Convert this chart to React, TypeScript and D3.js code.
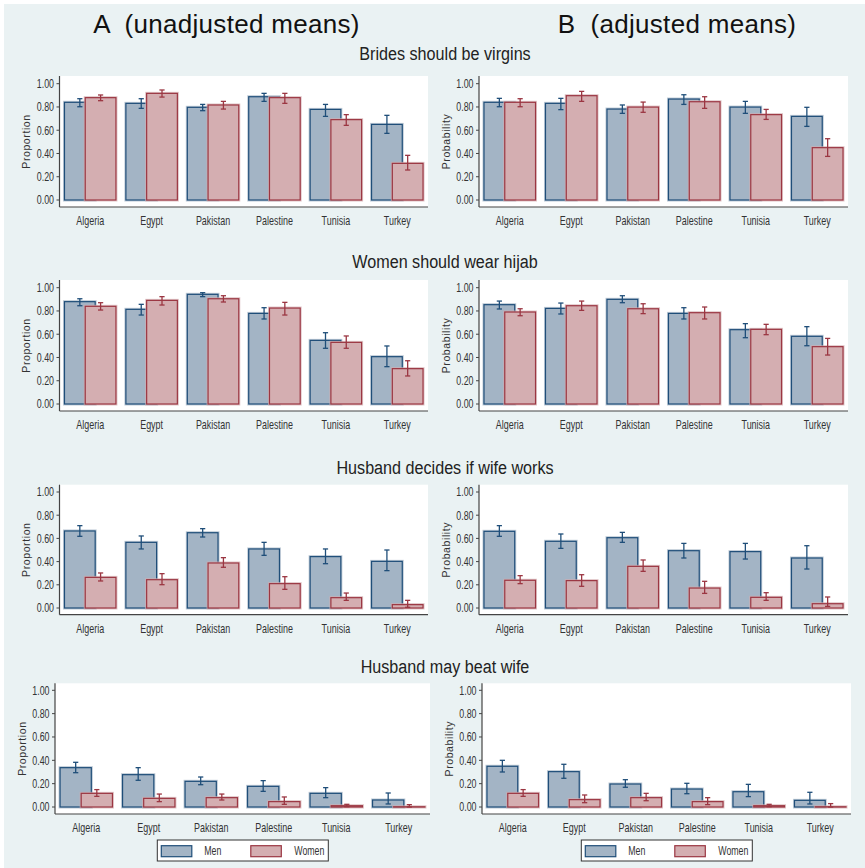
import React from "react";
import * as d3 from "d3";

// ---------- DATA ----------
const countries = ["Algeria", "Egypt", "Pakistan", "Palestine", "Tunisia", "Turkey"];
const yTicks = [0, 0.2, 0.4, 0.6, 0.8, 1.0];
const seriesNames = ["Men", "Women"];
const columnTitles = ["A  (unadjusted means)", "B  (adjusted means)"];
const rowTitles = ["Brides should be virgins", "Women should wear hijab", "Husband decides if wife works", "Husband may beat wife"];
const axisTitles = ["Proportion", "Probability"];

// each entry: [mean, lower CI, upper CI]
const virginsUnadjMen = [[0.840, 0.802, 0.871], [0.831, 0.788, 0.871], [0.797, 0.768, 0.822], [0.888, 0.848, 0.917], [0.779, 0.719, 0.822], [0.650, 0.573, 0.728]];
const virginsUnadjWomen = [[0.880, 0.854, 0.903], [0.917, 0.885, 0.946], [0.817, 0.782, 0.848], [0.880, 0.831, 0.917], [0.691, 0.642, 0.734], [0.315, 0.258, 0.384]];
const virginsAdjMen = [[0.840, 0.802, 0.874], [0.831, 0.777, 0.874], [0.782, 0.745, 0.817], [0.868, 0.822, 0.905], [0.799, 0.745, 0.848], [0.719, 0.633, 0.797]];
const virginsAdjWomen = [[0.840, 0.802, 0.871], [0.897, 0.848, 0.934], [0.799, 0.754, 0.842], [0.845, 0.788, 0.888], [0.734, 0.693, 0.779], [0.450, 0.375, 0.527]];

const hijabUnadjMen = [[0.880, 0.845, 0.905], [0.814, 0.765, 0.857], [0.943, 0.923, 0.957], [0.779, 0.731, 0.828], [0.547, 0.479, 0.613], [0.407, 0.321, 0.499]];
const hijabUnadjWomen = [[0.840, 0.808, 0.871], [0.891, 0.851, 0.923], [0.905, 0.877, 0.931], [0.825, 0.765, 0.874], [0.530, 0.479, 0.585], [0.304, 0.241, 0.372]];
const hijabAdjMen = [[0.854, 0.817, 0.885], [0.822, 0.774, 0.868], [0.900, 0.871, 0.931], [0.779, 0.731, 0.828], [0.639, 0.570, 0.691], [0.582, 0.501, 0.665]];
const hijabAdjWomen = [[0.791, 0.759, 0.819], [0.845, 0.805, 0.885], [0.819, 0.777, 0.862], [0.785, 0.731, 0.834], [0.642, 0.596, 0.685], [0.493, 0.421, 0.564]];

const worksUnadjMen = [[0.664, 0.618, 0.710], [0.566, 0.509, 0.621], [0.649, 0.612, 0.684], [0.509, 0.454, 0.566], [0.443, 0.382, 0.509], [0.402, 0.322, 0.500]];
const worksUnadjWomen = [[0.264, 0.233, 0.302], [0.244, 0.201, 0.296], [0.388, 0.351, 0.434], [0.210, 0.161, 0.270], [0.089, 0.066, 0.129], [0.029, 0.006, 0.066]];
const worksAdjMen = [[0.661, 0.618, 0.710], [0.575, 0.514, 0.638], [0.606, 0.566, 0.652], [0.494, 0.431, 0.557], [0.486, 0.422, 0.557], [0.431, 0.336, 0.537]];
const worksAdjWomen = [[0.239, 0.210, 0.279], [0.236, 0.187, 0.287], [0.359, 0.316, 0.414], [0.172, 0.126, 0.230], [0.092, 0.066, 0.132], [0.037, 0.014, 0.095]];

const beatUnadjMen = [[0.337, 0.294, 0.383], [0.277, 0.229, 0.337], [0.220, 0.191, 0.257], [0.177, 0.134, 0.226], [0.117, 0.080, 0.166], [0.060, 0.026, 0.120]];
const beatUnadjWomen = [[0.117, 0.091, 0.149], [0.074, 0.046, 0.111], [0.080, 0.060, 0.111], [0.046, 0.023, 0.086], [0.011, 0.003, 0.023], [0.002, 0.0, 0.020]];
const beatAdjMen = [[0.349, 0.300, 0.400], [0.303, 0.246, 0.366], [0.197, 0.169, 0.234], [0.154, 0.114, 0.203], [0.131, 0.089, 0.194], [0.057, 0.026, 0.126]];
const beatAdjWomen = [[0.117, 0.091, 0.149], [0.063, 0.037, 0.103], [0.080, 0.054, 0.117], [0.046, 0.020, 0.080], [0.011, 0.003, 0.023], [0.002, 0.0, 0.029]];

const panelData = [
  [[virginsUnadjMen, virginsUnadjWomen], [virginsAdjMen, virginsAdjWomen]],
  [[hijabUnadjMen, hijabUnadjWomen], [hijabAdjMen, hijabAdjWomen]],
  [[worksUnadjMen, worksUnadjWomen], [worksAdjMen, worksAdjWomen]],
  [[beatUnadjMen, beatUnadjWomen], [beatAdjMen, beatAdjWomen]],
];

// ---------- LAYOUT ----------
const W = 865, H = 868;
const BG = "#eaf2f3";
const MEN_FILL = "#a3b4c5", MEN_STROKE = "#1f4e79";
const WOMEN_FILL = "#d4aeb1", WOMEN_STROKE = "#9b3642";
const SANS = "'Liberation Sans', Arial, sans-serif";

const rowLayout = [
  { top: 76, y1: 83.7, y0: 200, axis: 207, sub: 60 },
  { top: 280, y1: 287.7, y0: 404, axis: 411, sub: 268 },
  { top: 484.7, y1: 492, y0: 608, axis: 614.7, sub: 473.5 },
  { top: 683.3, y1: 690.3, y0: 807, axis: 814, sub: 672.5 },
];
const colLayout = [
  [{ l: 59.5, r: 428 }, { l: 479, r: 848 }],
  [{ l: 59.5, r: 428 }, { l: 479, r: 848 }],
  [{ l: 59.5, r: 428 }, { l: 479, r: 848 }],
  [{ l: 55, r: 430 }, { l: 482, r: 851 }],
];

function NText({ x, y, s, size, anchor = "start", fill = "#333", dy, children }: any) {
  return (
    <text
      transform={`translate(${x},${y}) scale(${s},1)`}
      x={0}
      y={0}
      dy={dy}
      textAnchor={anchor}
      fontFamily={SANS}
      fontSize={size}
      fill={fill}
    >
      {children}
    </text>
  );
}

function Panel({ row, col }: { row: number; col: number }) {
  const rl = rowLayout[row];
  const cl = colLayout[row][col];
  const [men, women] = panelData[row][col];
  const x = d3.scaleBand().domain(countries).range([cl.l, cl.r]).padding(0);
  const y = d3.scaleLinear().domain([0, 1]).range([rl.y0, rl.y1]);
  const step = x.step();
  const bw = step * 0.5;
  const half = step * 0.419;
  const capW = 2.6;

  const bar = (d: number[], i: number, g: number) => {
    const c = x(countries[i])! + step / 2;
    const bx = g === 0 ? c - half : c + half - bw;
    const fill = g === 0 ? MEN_FILL : WOMEN_FILL;
    const stroke = g === 0 ? MEN_STROKE : WOMEN_STROKE;
    const yt = y(d[0]);
    const cx = bx + bw / 2;
    const h = Math.max(0.3, rl.y0 - yt);
    return (
      <g key={`${g}-${i}`}>
        <rect x={bx} y={yt} width={bw} height={h} fill={fill} stroke={fill} strokeWidth={3} opacity={0.7} />
        <rect x={bx} y={yt} width={bw} height={h} fill={fill} stroke={stroke} strokeWidth={1.2} />
        <line x1={cx} x2={cx} y1={y(d[1])} y2={y(d[2])} stroke={stroke} strokeWidth={1.3} />
        <line x1={cx - capW} x2={cx + capW} y1={y(d[1])} y2={y(d[1])} stroke={stroke} strokeWidth={1.3} />
        <line x1={cx - capW} x2={cx + capW} y1={y(d[2])} y2={y(d[2])} stroke={stroke} strokeWidth={1.3} />
      </g>
    );
  };

  return (
    <g>
      <rect x={cl.l} y={rl.top} width={cl.r - cl.l} height={rl.axis - rl.top} fill="#fff" />
      {men.map((d, i) => bar(d, i, 0))}
      {women.map((d, i) => bar(d, i, 1))}
      <line x1={cl.l} x2={cl.l} y1={rl.top} y2={rl.axis} stroke="#444" strokeWidth={1.2} />
      <line x1={cl.l} x2={cl.r} y1={rl.axis} y2={rl.axis} stroke="#444" strokeWidth={1.2} />
      {yTicks.map((t) => (
        <g key={t}>
          <line x1={cl.l - 3} x2={cl.l} y1={y(t)} y2={y(t)} stroke="#444" strokeWidth={1} />
          <NText x={cl.l - 5.5} y={y(t)} dy="0.36em" s={0.74} size={12} anchor="end">
            {d3.format(".2f")(t)}
          </NText>
        </g>
      ))}
      {countries.map((c) => (
        <NText key={c} x={x(c)! + step / 2} y={rl.axis + 18} s={0.7} size={12.8} anchor="middle">
          {c}
        </NText>
      ))}
      <text
        transform={`translate(${cl.l - 29.5},${(rl.top + rl.axis) / 2}) rotate(-90)`}
        textAnchor="middle"
        fontFamily={SANS}
        fontSize={10.5}
        letterSpacing={0.6}
        fill="#333"
      >
        {axisTitles[col]}
      </text>
    </g>
  );
}

function Legend({ x0 }: { x0: number }) {
  return (
    <g>
      <rect x={x0} y={840} width={171} height={21} fill="#fff" stroke="#333" strokeWidth={1} />
      <rect x={x0 + 4} y={845.7} width={30.5} height={11} fill={MEN_FILL} stroke={MEN_STROKE} strokeWidth={1.2} />
      <NText x={x0 + 47} y={855} s={0.72} size={12.2}>{seriesNames[0]}</NText>
      <rect x={x0 + 93.5} y={845.7} width={30.5} height={11} fill={WOMEN_FILL} stroke={WOMEN_STROKE} strokeWidth={1.2} />
      <NText x={x0 + 137} y={855} s={0.72} size={12.2}>{seriesNames[1]}</NText>
    </g>
  );
}

export default function App() {
  return (
    <svg width={W} height={H} style={{ position: "absolute", left: 0, top: 0, display: "block" }}>
      <rect x={0} y={0} width={W} height={H} fill="#fff" />
      <rect x={4} y={4} width={W - 4} height={H - 4} fill={BG} />
      <text x={226.5} y={33} textAnchor="middle" fontFamily={SANS} fontSize={26} letterSpacing={0.3} fill="#111" style={{ whiteSpace: "pre" }}>{columnTitles[0]}</text>
      <text x={677} y={33} textAnchor="middle" fontFamily={SANS} fontSize={26} letterSpacing={0.3} fill="#111" style={{ whiteSpace: "pre" }}>{columnTitles[1]}</text>
      {rowLayout.map((rl, r) => (
        <g key={r}>
          <NText x={445} y={rl.sub} s={0.85} size={19} anchor="middle" fill="#222">{rowTitles[r]}</NText>
          <Panel row={r} col={0} />
          <Panel row={r} col={1} />
        </g>
      ))}
      <Legend x0={157.3} />
      <Legend x0={581.3} />
    </svg>
  );
}
